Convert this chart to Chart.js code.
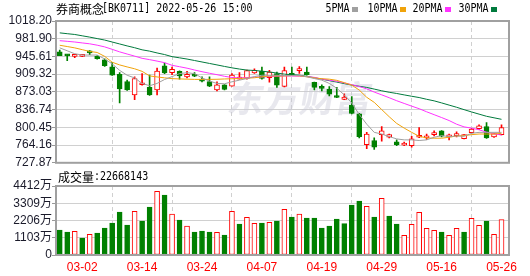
<!DOCTYPE html>
<html>
<head>
<meta charset="utf-8">
<script src="https://cdn.jsdelivr.net/npm/chart.js@4"></script>
<style>
html, body { margin: 0; padding: 0; background: #fff; }
#wrap { position: relative; width: 530px; height: 276px; }
#kline { position: absolute; left: 0; top: 0; }
#vol { position: absolute; left: 0; top: 170px; }
</style>
</head>
<body>
<div id="wrap">
    <canvas id="kline" width="530" height="170"></canvas>
    <canvas id="vol" width="530" height="106"></canvas>
</div>
<script>
// trading days shown
const dates = [
    '02-25','02-28','03-01','03-02','03-03','03-04','03-07','03-08','03-09','03-10',
    '03-11','03-14','03-15','03-16','03-17','03-18','03-21','03-22','03-23','03-24',
    '03-25','03-28','03-29','03-30','03-31','04-01','04-06','04-07','04-08','04-11',
    '04-12','04-13','04-14','04-15','04-18','04-19','04-20','04-21','04-22','04-25',
    '04-26','04-27','04-28','04-29','05-05','05-06','05-09','05-10','05-11','05-12',
    '05-13','05-16','05-17','05-18','05-19','05-20','05-23','05-24','05-25','05-26'
];
const open = [
    955.2,947.8,945.8,945.8,953.5,945.8,938.5,924.5,909.1,894.4,
    867.0,887.7,882.4,877.0,926.5,912.4,915.1,903.8,909.1,899.1,
    894.4,877.0,887.7,885.0,899.1,900.4,911.8,915.8,902.4,910.4,
    884.4,908.0,916.5,913.8,892.4,881.3,878.3,862.3,857.7,845.6,
    828.3,764.8,773.5,785.5,780.2,770.8,764.2,762.8,780.2,778.8,
    785.5,793.5,780.9,783.5,777.5,789.5,797.6,802.2,780.9,785.5
];
const high = [
    958.5,949.2,950.2,950.2,957.6,947.2,940.5,933.8,912.4,897.1,
    903.8,910.4,907.7,921.8,931.8,923.8,916.0,915.1,912.4,903.8,
    903.8,893.7,888.0,910.4,912.4,917.8,920.5,923.8,917.1,913.8,
    923.8,923.8,925.1,923.8,893.0,887.7,883.7,882.4,869.0,863.6,
    829.0,790.2,778.8,802.2,786.9,774.8,770.2,782.2,800.2,786.9,
    793.5,794.0,786.9,791.5,785.5,798.2,805.6,810.3,788.0,805.6
];
const low = [
    947.2,937.2,943.2,945.0,949.2,939.8,925.1,907.0,850.3,876.0,
    857.0,887.0,866.0,867.0,910.4,908.4,899.0,901.8,904.4,893.7,
    883.7,874.8,877.0,885.0,899.0,899.1,911.0,899.0,893.0,882.4,
    883.0,906.8,911.0,907.1,877.0,874.8,865.0,861.0,857.0,828.0,
    779.0,756.8,755.5,772.2,779.0,762.8,762.8,760.1,779.5,775.5,
    782.8,781.0,774.8,780.9,776.8,789.0,796.2,778.0,780.0,785.0
];
const close = [
    947.2,946.8,949.8,949.3,953.0,941.2,926.5,907.1,879.0,877.0,
    900.4,891.7,867.0,915.8,911.8,919.1,905.8,909.1,905.1,895.1,
    885.0,887.7,878.3,907.7,901.8,916.5,917.1,900.4,913.8,887.0,
    916.5,906.8,919.1,908.4,882.4,880.4,868.3,861.6,862.3,828.9,
    781.5,786.9,760.1,793.5,785.5,764.8,768.2,776.8,782.2,782.2,
    789.5,782.2,783.5,786.9,785.5,796.9,803.6,778.8,787.5,800.2
];
const ma5 = [
    963.2,957.2,951.2,948.5,948.5,948.5,940.5,930.5,917.1,907.1,
    901.7,890.4,885.7,890.4,898.4,904.4,910.4,912.4,910.4,901.7,
    895.1,890.4,889.7,893.7,897.1,900.4,904.4,907.1,907.1,907.1,
    906.4,906.4,906.9,904.1,900.4,897.1,890.4,880.4,867.0,850.3,
    826.9,806.9,790.2,786.8,781.5,776.8,774.8,774.8,773.5,774.8,
    780.2,783.5,781.5,782.8,782.2,788.2,790.2,790.2,790.2,790.2
];
const ma10 = [
    968.5,965.9,963.2,959.5,955.9,953.8,945.8,933.8,928.3,924.2,
    920.4,915.1,905.8,903.7,901.8,900.2,899.6,899.1,898.7,898.5,
    898.7,898.9,899.5,900.0,900.7,901.2,902.0,903.8,905.6,905.7,
    905.7,906.5,905.9,904.0,901.7,900.0,899.1,896.7,892.0,887.0,
    876.8,862.0,851.6,836.9,822.2,808.5,798.9,790.2,782.2,778.8,
    778.2,778.2,780.2,782.8,783.5,785.5,786.8,786.8,786.8,788.2
];
const ma20 = [
    977.9,976.6,975.2,973.3,971.5,968.7,965.2,960.2,955.0,950.6,
    946.3,941.8,939.1,936.1,932.9,927.5,924.6,921.6,917.9,914.4,
    911.2,908.3,905.0,902.5,901.7,902.4,903.1,903.7,904.4,905.1,
    905.7,905.5,905.2,904.3,902.8,899.4,897.0,894.8,891.4,887.8,
    884.0,879.2,872.7,867.0,861.1,855.0,849.4,843.9,838.6,832.3,
    826.4,820.5,814.4,806.9,801.4,798.9,795.5,790.6,787.2,784.8
];
const ma30 = [
    993.9,992.2,990.6,987.9,985.2,982.2,979.2,975.2,971.2,967.2,
    963.5,959.2,956.5,952.8,949.5,945.2,942.8,940.3,937.3,934.3,
    931.3,928.3,925.2,922.3,919.8,917.7,916.9,915.4,913.9,911.6,
    909.4,908.2,907.3,904.9,902.0,899.1,896.0,893.1,890.0,887.0,
    884.6,882.2,878.8,875.3,872.3,869.8,866.9,864.1,861.5,857.9,
    854.7,850.5,846.0,841.6,836.7,832.0,827.5,823.1,820.0,816.9
];
// volume in 万
const volume = [
    1598,1470,1513,1087,1321,1406,1726,2046,2749,1918,
    2792,2174,3069,4070,3836,2621,2238,1854,1470,1534,
    1470,1449,1279,2792,1982,2408,2024,2046,2088,2174,
    2919,2430,2621,2365,2365,1726,1854,2301,2003,3196,
    3452,3111,2430,3623,2493,1982,1257,1960,2728,1705,
    1577,1470,1257,1705,1470,2344,1897,2174,1321,2267
];
// 1 = red (hollow) volume bar, 0 = green
const volRise = [
    0,0,1,0,1,0,0,0,0,0,
    1,0,0,1,0,1,0,1,0,0,
    0,1,0,1,0,1,1,0,1,0,
    1,0,1,0,0,0,0,0,0,0,
    0,1,0,1,0,0,1,1,1,1,
    1,0,1,1,0,1,1,0,1,1
];
const priceTicks = [727.87, 764.16, 800.45, 836.74, 873.03, 909.32, 945.61, 981.90, 1018.20];
const priceTickLabels = ['727.87','764.16','800.45','836.74','873.03','909.32','945.61','981.90','1018.20'];
const volTicks = [0, 1103, 2206, 3309, 4412];
const volTickLabels = ['0', '1103万', '2206万', '3309万', '4412万'];
const dateTickIdx = [3, 11, 19, 27, 35, 43, 51, 59];
const boardName = '券商概念';
const titleRest = '[BK0711] 2022-05-26 15:00';
const volName = '成交量';
const volTotal = ':22668143';
const maNames = ['5PMA', '10PMA', '20PMA', '30PMA'];

const RED = '#ff0000';
const GREEN = '#008000';
const maColors = ['#a0a0a0', '#f0a30a', '#ff33ff', '#007a3d'];
const GRID = '#d0d0d0';
const FRAME = '#a0a0a0';

Chart.defaults.font.family = '"Liberation Sans", Arial, "Noto Sans CJK SC", sans-serif';
Chart.defaults.font.size = 12;

const up = close.map((c, i) => c >= open[i]);

function xScale(showLabels) {
    return {
        type: 'linear',
        min: -0.5,
        max: 60,
        offset: false,
        afterBuildTicks: s => { s.ticks = dateTickIdx.map(v => ({ value: v })); },
        afterFit: s => { s.height = showLabels ? 21 : 5; },
        grid: { color: GRID, drawTicks: false, lineWidth: 1 },
        border: { display: false, dash: [4, 3] },
        ticks: {
            display: showLabels,
            color: RED,
            padding: 5,
            maxRotation: 0,
            autoSkip: false,
            callback: v => dates[v]
        }
    };
}

function yScale(min, max, ticks, labels) {
    return {
        min: min,
        max: max,
        afterBuildTicks: s => { s.ticks = ticks.map(v => ({ value: v })); },
        afterFit: s => { s.width = 56; },
        grid: { color: GRID, tickLength: 4, tickColor: '#999', lineWidth: 1 },
        border: { display: false },
        ticks: {
            color: '#1a1a2a',
            padding: 0,
            autoSkip: false,
            callback: (v, i) => labels[i]
        }
    };
}

const framePlugin = {
    id: 'frame',
    afterDraw(chart) {
        const a = chart.chartArea;
        const c = chart.ctx;
        c.save();
        c.strokeStyle = FRAME;
        c.lineWidth = 2;
        c.strokeRect(a.left, a.top, a.right - a.left, a.bottom - a.top);
        c.restore();
    }
};

// monospace text, stretched a little taller like the original bitmap font
function monoText(c, txt, x, y) {
    c.save();
    c.font = '10px "DejaVu Sans Mono"';
    c.translate(x, y);
    c.scale(1, 1.15);
    c.fillText(txt, 0, 0);
    const w = c.measureText(txt).width;
    c.restore();
    return w;
}

const klineText = {
    id: 'klineText',
    beforeDatasetsDraw(chart) {
        const c = chart.ctx;
        c.save();
        c.fillStyle = 'rgba(200,200,214,0.42)';
        c.font = 'bold 36px "Noto Sans CJK SC"';
        c.translate(226, 112);
        c.transform(1, 0, -0.18, 1, 0, 0);
        c.fillText('东方财富', 0, 0);
        c.restore();
    },
    afterDraw(chart) {
        const c = chart.ctx;
        c.save();
        c.textBaseline = 'middle';
        c.fillStyle = '#000';
        c.font = '12px "Noto Sans CJK SC"';
        c.fillText(boardName, 56, 9.5);
        monoText(c, titleRest, 102, 9.5);
        const lx = [325.5, 367.5, 412.5, 458.5];
        maNames.forEach((n, i) => {
            c.fillStyle = '#000';
            const w = monoText(c, n, lx[i], 9.5);
            c.fillStyle = maColors[i];
            c.fillRect(Math.round(lx[i] + w + 2), 7, 6, 5);
        });
        c.restore();
    }
};

const volText = {
    id: 'volText',
    afterDraw(chart) {
        const c = chart.ctx;
        c.save();
        c.textBaseline = 'middle';
        c.fillStyle = '#000';
        c.font = '12px "Noto Sans CJK SC"';
        c.fillText(volName, 58, 7);
        monoText(c, volTotal, 94, 7);
        c.restore();
    }
};

function maSet(data, color) {
    return {
        type: 'line',
        data: data.map((v, i) => ({ x: i, y: v })),
        borderColor: color,
        borderWidth: 1,
        pointRadius: 0,
        tension: 0,
        order: 0
    };
}

new Chart(document.getElementById('kline').getContext('2d'), {
    type: 'bar',
    data: {
        datasets: [
            maSet(ma5, maColors[0]),
            maSet(ma10, maColors[1]),
            maSet(ma20, maColors[2]),
            maSet(ma30, maColors[3]),
            {
                type: 'bar',
                data: open.map((o, i) => ({ x: i, y: [o, close[i]] })),
                backgroundColor: up.map(u => u ? '#fff' : GREEN),
                borderColor: up.map(u => u ? RED : GREEN),
                borderWidth: 1,
                borderSkipped: false,
                barThickness: 5,
                minBarLength: 2,
                grouped: false,
                order: 1
            },
            {
                type: 'bar',
                data: low.map((l, i) => ({ x: i, y: [l, high[i]] })),
                backgroundColor: up.map(u => u ? RED : GREEN),
                borderWidth: 0,
                barThickness: 1,
                grouped: false,
                order: 2
            }
        ]
    },
    options: {
        responsive: false,
        animation: false,
        events: [],
        layout: { padding: { top: 21, right: 21, left: 0, bottom: 0 } },
        plugins: { legend: { display: false }, tooltip: { enabled: false } },
        scales: {
            x: xScale(false),
            y: yScale(727.87, 1018.20, priceTicks, priceTickLabels)
        }
    },
    plugins: [klineText, framePlugin]
});

new Chart(document.getElementById('vol').getContext('2d'), {
    type: 'bar',
    data: {
        datasets: [{
            data: volume.map((v, i) => ({ x: i, y: v })),
            backgroundColor: volRise.map(r => r ? '#fff' : GREEN),
            borderColor: volRise.map(r => r ? RED : GREEN),
            borderWidth: 1,
            borderSkipped: false,
            barThickness: 5,
            grouped: false
        }]
    },
    options: {
        responsive: false,
        animation: false,
        events: [],
        layout: { padding: { top: 16, right: 21, left: 0, bottom: 0 } },
        plugins: { legend: { display: false }, tooltip: { enabled: false } },
        scales: {
            x: xScale(true),
            y: yScale(0, 4412, volTicks, volTickLabels)
        }
    },
    plugins: [volText, framePlugin]
});
</script>
</body>
</html>
